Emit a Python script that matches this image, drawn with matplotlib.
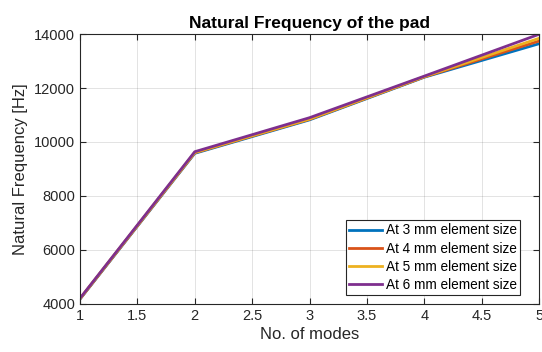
import matplotlib
matplotlib.use("Agg")
import matplotlib.pyplot as plt

plt.rcParams['font.family'] = ['Liberation Sans', 'DejaVu Sans']

# mode number vs natural frequency for each mesh size
modes = [1, 2, 3, 4, 5]
freq_3mm = [4180, 9580, 10820, 12400, 13640]
freq_4mm = [4190, 9600, 10840, 12410, 13740]
freq_5mm = [4200, 9610, 10850, 12420, 13840]
freq_6mm = [4210, 9640, 10900, 12440, 13990]
labels = ['At 3 mm element size', 'At 4 mm element size',
          'At 5 mm element size', 'At 6 mm element size']

colors = [(0, 0.447, 0.741), (0.85, 0.325, 0.098),
          (0.929, 0.694, 0.125), (0.494, 0.184, 0.556)]
dark = (0.15, 0.15, 0.15)

fig = plt.figure(figsize=(5.42, 3.52), dpi=100)
ax = fig.add_axes([0.1476, 0.1364, 0.847, 0.767])

for ys, c, lab in zip([freq_3mm, freq_4mm, freq_5mm, freq_6mm], colors, labels):
    ax.plot(modes, ys, color=c, lw=2, label=lab)

ax.set_xlim(1, 5)
ax.set_ylim(4000, 14000)
ax.set_xticks([1, 1.5, 2, 2.5, 3, 3.5, 4, 4.5, 5])
ax.set_xticklabels(['1', '1.5', '2', '2.5', '3', '3.5', '4', '4.5', '5'])
ax.set_yticks(range(4000, 14001, 2000))
ax.grid(True, color=dark, alpha=0.15, lw=0.6)
ax.tick_params(direction='in', length=4, labelsize=10.5, colors=dark,
               top=True, right=True)
for s in ax.spines.values():
    s.set_color(dark)
    s.set_linewidth(0.8)

ax.set_title('Natural Frequency of the pad', fontsize=12.5, fontweight='bold', pad=4)
ax.set_xlabel('No. of modes', fontsize=12, color=dark, labelpad=3)
ax.set_ylabel('Natural Frequency [Hz]', fontsize=12, color=dark, labelpad=4)

leg = ax.legend(loc='lower right', fontsize=9.8, fancybox=False, edgecolor=dark,
                framealpha=1, handlelength=2.4, handletextpad=0.3, borderpad=0.25,
                labelspacing=0.3, borderaxespad=0, bbox_to_anchor=(0.959, 0.033))
leg.get_frame().set_linewidth(0.8)

fig.savefig('out.png', dpi=100)
